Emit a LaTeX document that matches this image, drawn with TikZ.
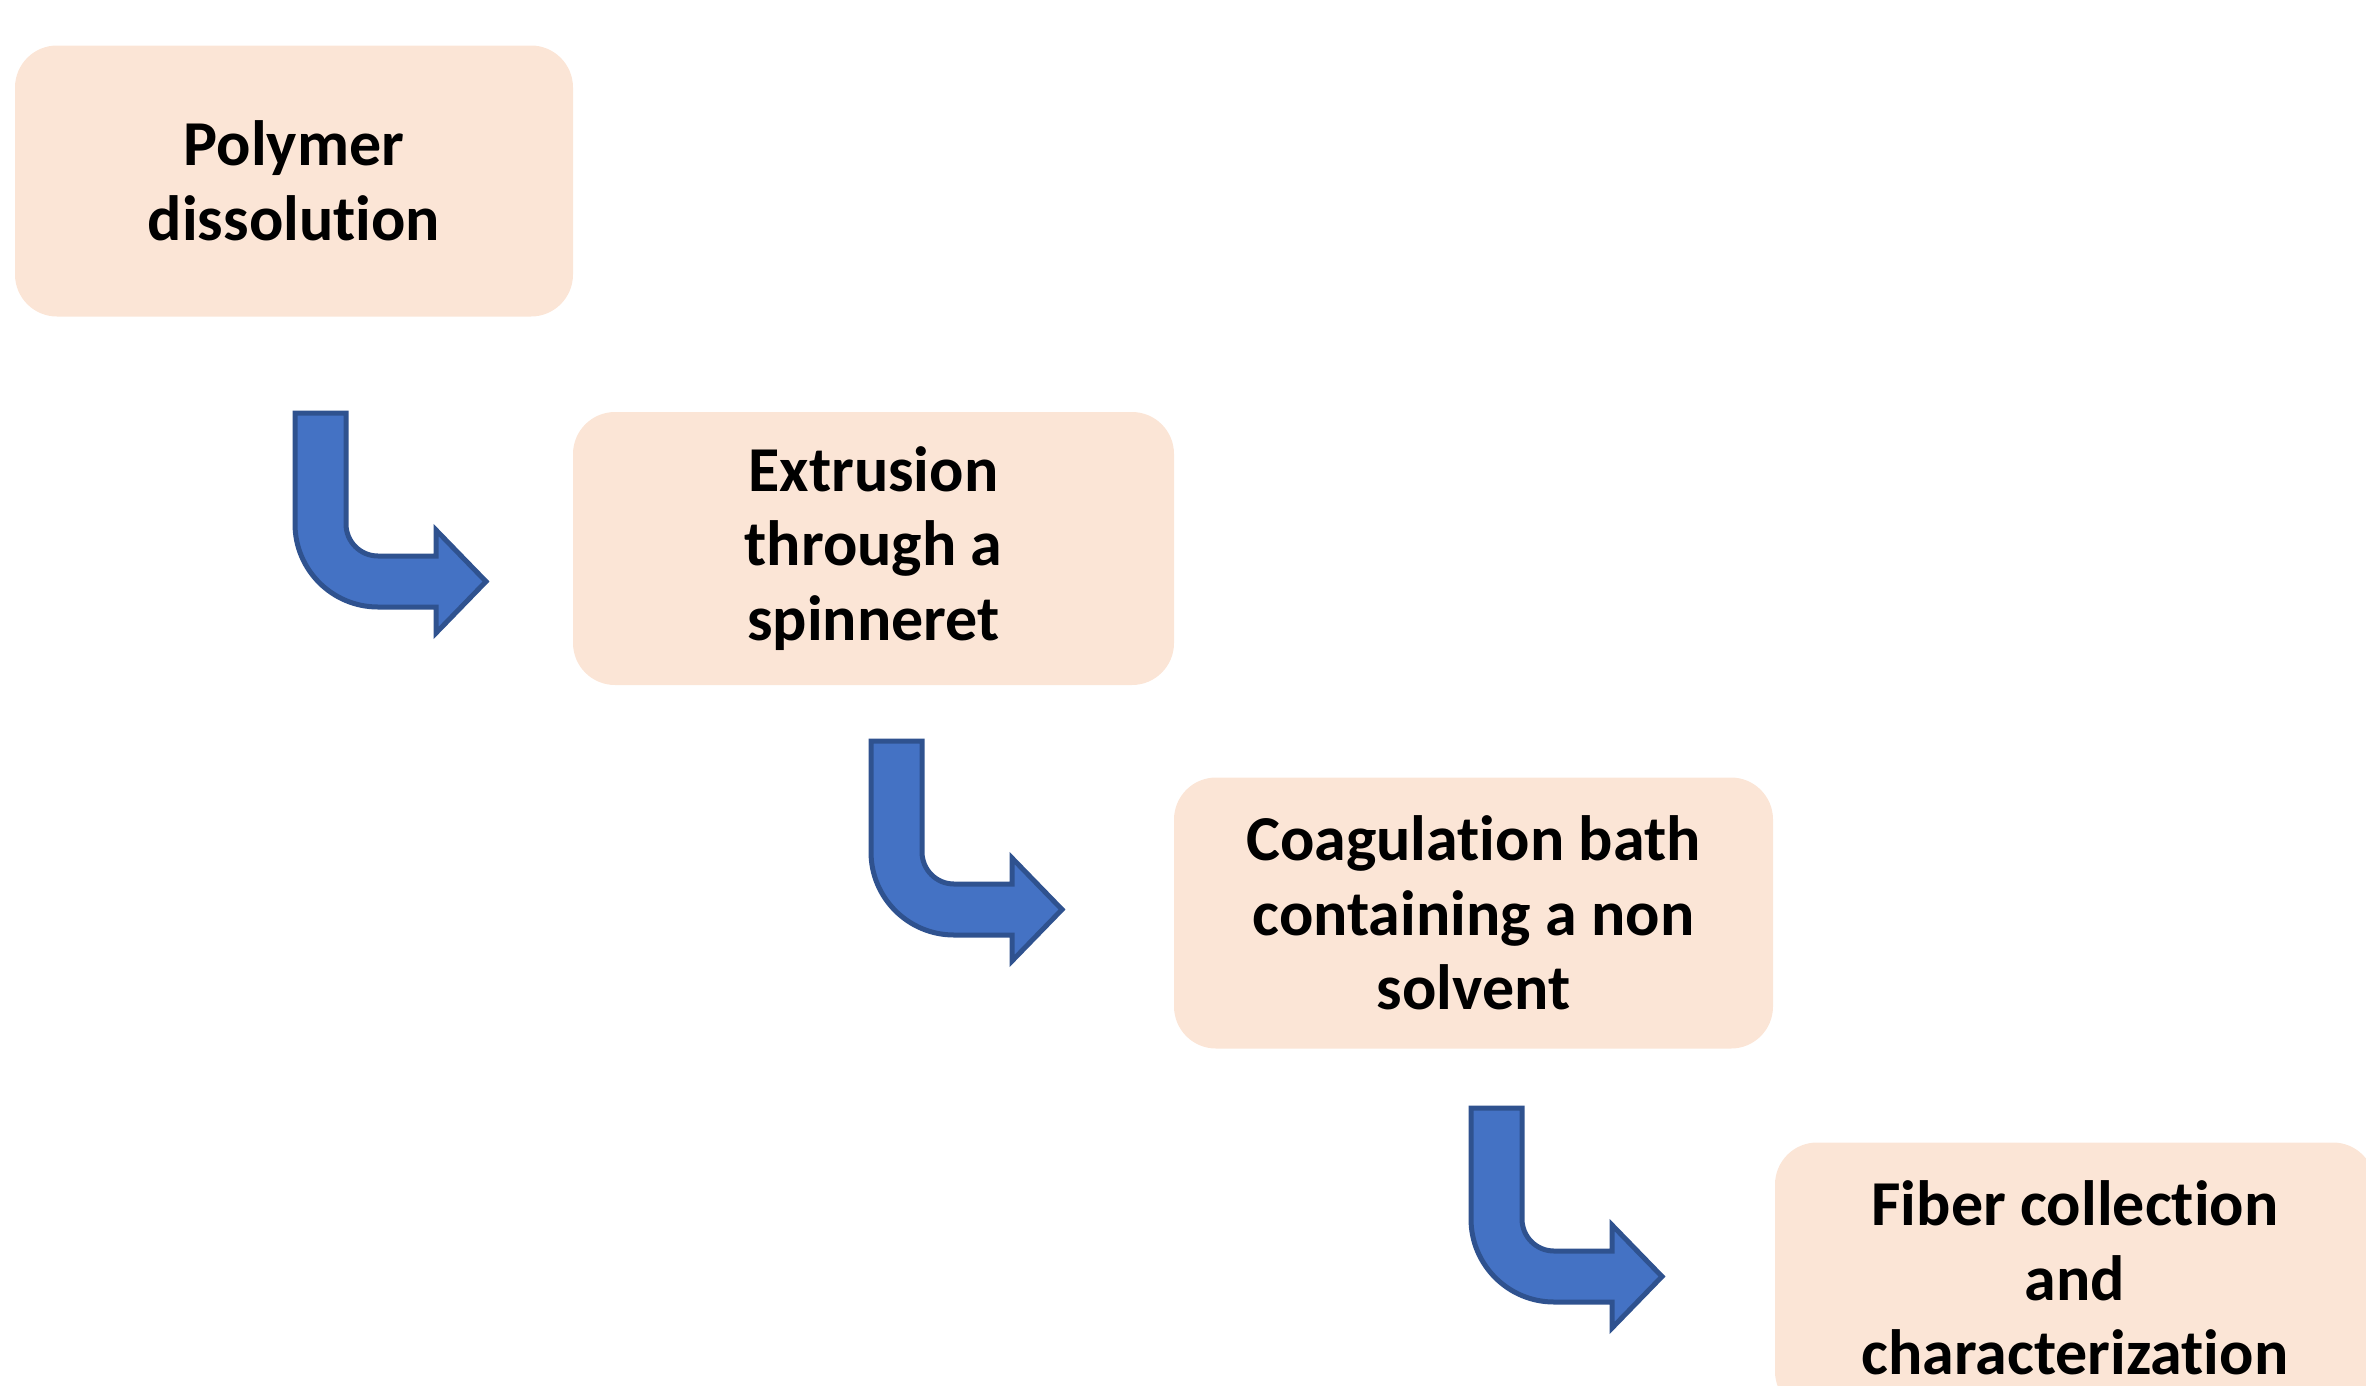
\documentclass[tikz,border=0pt]{standalone}
\usepackage{fontspec}
\setmainfont{Carlito}[Ligatures=NoCommon]
\usepackage{tikz}
\usetikzlibrary{calc, positioning}

\definecolor{boxpeach}{RGB}{251,229,214}
\definecolor{arrowfill}{RGB}{68,114,196}
\definecolor{arrowedge}{RGB}{47,82,143}

\tikzset{
	stepbox/.style={fill=boxpeach, rounded corners=31.5pt, inner sep=0pt, align=center,
		font=\fontsize{48}{56}\selectfont\bfseries},
	bendarrow/.style={fill=arrowfill, draw=arrowedge, line width=3.75pt, line join=miter}
}

\begin{document}
\begin{tikzpicture}[x=0.75pt,y=0.75pt,yscale=-1,xscale=1]
		\useasboundingbox (0,0) rectangle (2366,1385);
		\clip (0,0) rectangle (2366,1385);

		%Shape: Rounded Rect
		\node [stepbox, minimum width=418.5pt, minimum height=203.25pt] (dissolve) at (294,181) {Polymer\\dissolution};
		%Shape: Rounded Rect
		\node [stepbox, minimum width=450.75pt, minimum height=204.75pt] (extrude) at (873.5,548.5) {Extrusion\\through a\\spinneret};
		%Shape: Rounded Rect
		\node [stepbox, minimum width=449.25pt, minimum height=203.25pt] (coag) at (1473.5,913) {Coagulation bath\\containing a non\\solvent};
		%Shape: Rounded Rect
		\node [stepbox, minimum width=450pt, minimum height=203.25pt] (collect) at (2075,1278) {Fiber collection\\and\\characterization};

		%Shape: Bent Arrow
		\coordinate (bend1) at (295,413);
		\draw [bendarrow, shift={(bend1)}] (0,0) -- (51,0) -- (51,111) arc[start angle=180, end angle=90, radius=32] -- (141,143) -- (141,117) -- (191,168.5) -- (141,220) -- (141,194) -- (83,194) arc[start angle=90, end angle=180, radius=83] -- cycle ;
		%Shape: Bent Arrow
		\coordinate (bend2) at (871,741);
		\draw [bendarrow, shift={(bend2)}] (0,0) -- (51,0) -- (51,111) arc[start angle=180, end angle=90, radius=32] -- (141,143) -- (141,117) -- (191,168.5) -- (141,220) -- (141,194) -- (83,194) arc[start angle=90, end angle=180, radius=83] -- cycle ;
		%Shape: Bent Arrow
		\coordinate (bend3) at (1471,1108);
		\draw [bendarrow, shift={(bend3)}] (0,0) -- (51,0) -- (51,111) arc[start angle=180, end angle=90, radius=32] -- (141,143) -- (141,117) -- (191,168.5) -- (141,220) -- (141,194) -- (83,194) arc[start angle=90, end angle=180, radius=83] -- cycle ;

	\end{tikzpicture}
\end{document}
